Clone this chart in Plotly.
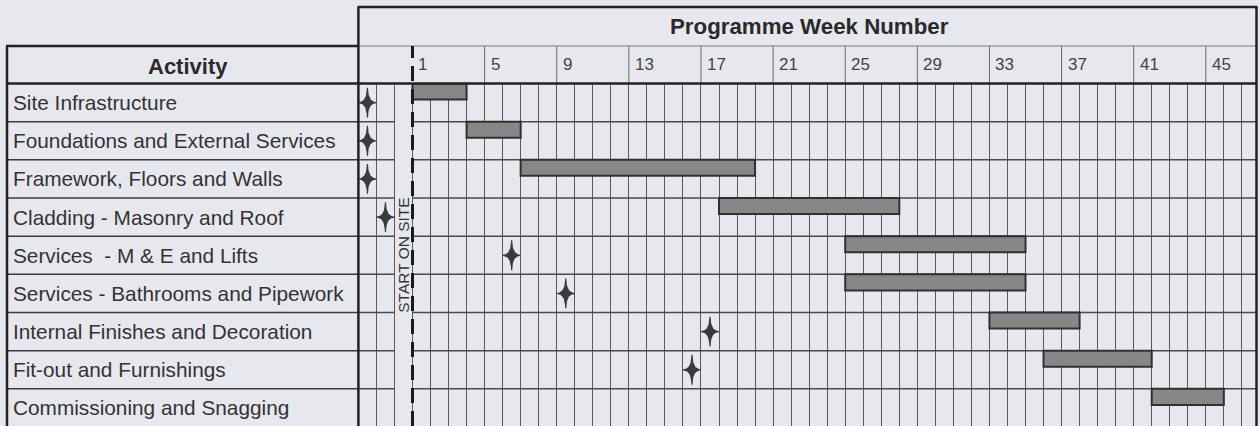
import numpy as np
import plotly.graph_objects as go

# ---------------- data ----------------
activities = [
    "Site Infrastructure",
    "Foundations and External Services",
    "Framework, Floors and Walls",
    "Cladding - Masonry and Roof",
    "Services\u00a0 - M & E and Lifts",
    "Services - Bathrooms and Pipework",
    "Internal Finishes and Decoration",
    "Fit-out and Furnishings",
    "Commissioning and Snagging",
]
start_week = [1, 4, 7, 18, 25, 25, 33, 36, 42]
end_week = [3, 6, 19, 27, 34, 34, 37, 41, 45]

milestone_row = [0, 1, 2, 3, 4, 5, 6, 7]
milestone_week = [-2, -2, -2, -1, 6, 9, 17, 16]

week_ticks = list(range(1, 46, 4))
week_labels = [str(w) for w in week_ticks]
start_on_site_week = 1
header_title = "Programme Week Number"
activity_title = "Activity"
start_label = "START ON SITE"

# ---------------- geometry ----------------
W, H = 1260, 426
BG = "#e6e8ee"
FONT = "Liberation Sans, Arial, sans-serif"
X_LEFT_PX, X_RIGHT_PX = 358.4, 1256.5
PX_PER_WEEK = 18.03
X_MIN = -2
X_MAX = X_MIN + (X_RIGHT_PX - X_LEFT_PX) / PX_PER_WEEK
ROW_TOP_PX = 83.5
ROW_H = 38.17
Y_SPAN = (H - ROW_TOP_PX) / ROW_H
TABLE_LEFT_PX = 7
HEADER_TOP_PX = 7
WEEKROW_TOP_PX = 46


def px(p):
    return p / W


def py(p):
    return 1 - p / H


n_rows = len(activities)
fig = go.Figure()

# bars
bar_h = 0.42
fig.add_trace(go.Bar(
    orientation="h",
    y=[i + bar_h / 2 for i in range(n_rows)],
    base=start_week,
    x=[e - s + 1 for s, e in zip(start_week, end_week)],
    width=bar_h,
    marker=dict(color="#878787", line=dict(color="#303030", width=2)),
    hoverinfo="skip",
    showlegend=False,
))

# milestone stars (4-pointed)
theta = np.linspace(0, 2 * np.pi, 121)
a, b, k = 0.5, 0.39, 4.0
sx = a * np.sign(np.cos(theta)) * np.abs(np.cos(theta)) ** k
sy = b * np.sign(np.sin(theta)) * np.abs(np.sin(theta)) ** k
xs, ys = [], []
for r, w in zip(milestone_row, milestone_week):
    xs += list(w + 0.5 + sx) + [None]
    ys += list(r + 0.5 + sy) + [None]
fig.add_trace(go.Scatter(
    x=xs, y=ys, mode="lines", fill="toself",
    fillcolor="#3b3b3b", line=dict(color="#3b3b3b", width=1.2),
    hoverinfo="skip", showlegend=False,
))

shapes = []
LINE_DARK = "#222222"
GRID = "#5a5a5a"

# horizontal row lines in grid (skip the column just before start on site)
for i in range(1, n_rows):
    shapes.append(dict(type="line", xref="x", yref="y", x0=X_MIN, x1=start_on_site_week - 1,
                       y0=i, y1=i, line=dict(color="#4a4a4a", width=1.5), layer="between"))
    shapes.append(dict(type="line", xref="x", yref="y", x0=start_on_site_week, x1=X_MAX,
                       y0=i, y1=i, line=dict(color="#4a4a4a", width=1.5), layer="between"))
    # table row lines
    shapes.append(dict(type="line", xref="paper", yref="y", x0=px(TABLE_LEFT_PX), x1=px(X_LEFT_PX),
                       y0=i, y1=i, line=dict(color="#3a3a3a", width=1.5)))

# week-row separators every 4 weeks
for w in week_ticks[1:]:
    shapes.append(dict(type="line", xref="x", yref="paper", x0=w, x1=w,
                       y0=py(ROW_TOP_PX), y1=py(WEEKROW_TOP_PX), line=dict(color="#6a6a6a", width=1)))

# line between header and week row
shapes.append(dict(type="line", xref="paper", yref="paper", x0=px(X_LEFT_PX), x1=px(X_RIGHT_PX),
                   y0=py(WEEKROW_TOP_PX), y1=py(WEEKROW_TOP_PX), line=dict(color="#7a7a7a", width=1)))
# header top border
shapes.append(dict(type="line", xref="paper", yref="paper", x0=px(X_LEFT_PX - 1), x1=px(X_RIGHT_PX + 1),
                   y0=py(HEADER_TOP_PX), y1=py(HEADER_TOP_PX), line=dict(color=LINE_DARK, width=2.5)))
# activity table top border
shapes.append(dict(type="line", xref="paper", yref="paper", x0=px(TABLE_LEFT_PX - 1), x1=px(X_LEFT_PX),
                   y0=py(WEEKROW_TOP_PX), y1=py(WEEKROW_TOP_PX), line=dict(color=LINE_DARK, width=2.5)))
# thick line under headers
shapes.append(dict(type="line", xref="paper", yref="paper", x0=px(TABLE_LEFT_PX - 1), x1=px(X_RIGHT_PX),
                   y0=py(ROW_TOP_PX), y1=py(ROW_TOP_PX), line=dict(color=LINE_DARK, width=2.5)))
# vertical borders
for xp, ytop in [(TABLE_LEFT_PX, WEEKROW_TOP_PX), (X_LEFT_PX, HEADER_TOP_PX), (X_RIGHT_PX, HEADER_TOP_PX)]:
    shapes.append(dict(type="line", xref="paper", yref="paper", x0=px(xp), x1=px(xp),
                       y0=0, y1=py(ytop), line=dict(color=LINE_DARK, width=2.5)))
# start on site dashed line
shapes.append(dict(type="line", xref="x", yref="paper", x0=start_on_site_week, x1=start_on_site_week,
                   y0=0, y1=py(WEEKROW_TOP_PX), line=dict(color="#1a1a1a", width=3, dash="15px,8px")))

annotations = []
for i, name in enumerate(activities):
    annotations.append(dict(text=name, xref="paper", yref="y", x=px(11), y=i + 0.5,
                            xanchor="left", yanchor="middle", showarrow=False,
                            font=dict(family=FONT, size=20.8, color="#333333")))
for w, lab in zip(week_ticks, week_labels):
    annotations.append(dict(text=lab, xref="x", yref="paper", x=w, y=py(65),
                            xanchor="left", yanchor="middle", xshift=4, showarrow=False,
                            font=dict(family=FONT, size=17, color="#444444")))
annotations.append(dict(text="<b>%s</b>" % header_title, xref="paper", yref="paper",
                        x=px((X_LEFT_PX + X_RIGHT_PX) / 2 + 2), y=py(26.5), xanchor="center", yanchor="middle",
                        showarrow=False, font=dict(family=FONT, size=22.3, color="#2a2a2a")))
annotations.append(dict(text="<b>%s</b>" % activity_title, xref="paper", yref="paper",
                        x=px((TABLE_LEFT_PX + X_LEFT_PX) / 2 + 5), y=py(66), xanchor="center", yanchor="middle",
                        showarrow=False, font=dict(family=FONT, size=22, color="#2a2a2a")))
annotations.append(dict(text=start_label, xref="x", yref="y", x=start_on_site_week - 0.5, y=4.5,
                        textangle=-90, showarrow=False, xanchor="center", yanchor="middle",
                        font=dict(family=FONT, size=15.5, color="#333333")))

fig.update_layout(
    width=W, height=H,
    margin=dict(l=0, r=0, t=0, b=0, pad=0),
    paper_bgcolor=BG, plot_bgcolor=BG,
    barmode="overlay",
    showlegend=False,
    shapes=shapes,
    annotations=annotations,
    xaxis=dict(domain=[px(X_LEFT_PX), px(X_RIGHT_PX)], range=[X_MIN, X_MAX],
               showgrid=True, gridcolor=GRID, gridwidth=1, dtick=1, tick0=0,
               showticklabels=False, zeroline=False, showline=False, ticks="", fixedrange=True),
    yaxis=dict(domain=[0, py(ROW_TOP_PX)], range=[Y_SPAN, 0],
               showgrid=False, showticklabels=False, zeroline=False, showline=False, ticks="",
               fixedrange=True),
)

fig.write_html("out.html", config={"displayModeBar": False},
               post_script="document.body.style.margin='0';document.body.style.background='%s';" % BG)
